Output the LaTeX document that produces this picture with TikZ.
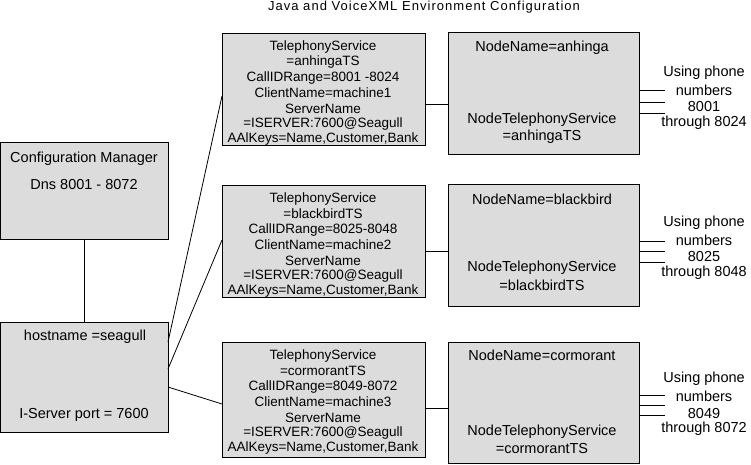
\documentclass[tikz,border=0pt]{standalone}
\usepackage{fontspec}
\setmainfont{Liberation Sans}
\newfontfamily\titlefont[LetterSpace=8]{Liberation Sans}
\definecolor{boxgray}{RGB}{220,220,220}
\tikzset{
  box/.style={draw=black, fill=boxgray, line width=1pt},
  lbl/.style={inner sep=0pt, anchor=center, font=\fontsize{14.5}{15}\selectfont},
  tslbl/.style={inner sep=0pt, anchor=center, font=\fontsize{13.5}{15}\selectfont},
  conn/.style={draw=black, line width=0.8pt}
}
\begin{document}
\begin{tikzpicture}[x=1pt,y=-1pt]
\useasboundingbox (0,0) rectangle (751,464);
% title
\node[inner sep=0pt, font=\titlefont\fontsize{13}{15}\selectfont] (title) at (424,7) {Java and VoiceXML Environment Configuration};
% left boxes
\path[box] (0.5,142) rectangle (168,239);
\path[box] (0.5,322) rectangle (168,432);
\node[lbl] (cm1) at (84,159) {Configuration Manager};
\node[lbl] (cm2) at (84,185) {Dns 8001 - 8072};
\node[lbl] (h1) at (85,337) {hostname =seagull};
\node[lbl] (h2) at (84,415) {I-Server port = 7600};
\coordinate (cmB) at (84,239);
\coordinate (hT) at (84,322);
\draw[conn] (cmB) -- (hT);
% telephony boxes
\path[box] (222,33) rectangle (425,145);
\path[box] (222,185) rectangle (425,297);
\path[box] (222,342) rectangle (425,457);
% node boxes
\path[box] (448,32) rectangle (639,154);
\path[box] (448,184) rectangle (639,306);
\path[box] (448,342) rectangle (639,463);
% telephony texts
\foreach \n/\y/\a/\b/\c in {a/47/anhinga/8001 -8024/1, b/199/blackbird/8025-8048/2, c/356/cormorant/8049-8072/3}{
  \node[tslbl] (\n t1) at (323,\y) {TelephonyService};
  \node[tslbl] (\n t2) at (323,\y+15) {=\a TS};
  \node[tslbl] (\n t3) at (323,\y+31) {CallIDRange=\b};
  \node[tslbl] (\n t4) at (323,\y+46) {ClientName=machine\c};
  \node[tslbl] (\n t5) at (323,\y+62) {ServerName};
  \node[tslbl] (\n t6) at (323,\y+77) {=ISERVER:7600@Seagull};
  \node[tslbl] (\n t7) at (323,\y+92) {AAlKeys=Name,Customer,Bank};
}
% node name texts
\node[lbl] (na1) at (542,48) {NodeName=anhinga};
\node[lbl] (na2) at (542,120) {NodeTelephonyService};
\node[lbl] (na3) at (542,137) {=anhingaTS};
\node[lbl] (nb1) at (542,199) {NodeName=blackbird};
\node[lbl] (nb2) at (542,268) {NodeTelephonyService};
\node[lbl] (nb3) at (542,285) {=blackbirdTS};
\node[lbl] (nc1) at (542,355) {NodeName=cormorant};
\node[lbl] (nc2) at (542,432) {NodeTelephonyService};
\node[lbl] (nc3) at (542,448) {=cormorantTS};
% phone texts
\foreach \n/\y/\p/\q in {a/73/8001/8024, b/223/8025/8048, c/379/8049/8072}{
  \node[lbl] (\n p1) at (704,\y) {Using phone};
  \node[lbl] (\n p2) at (704,\y+17) {numbers};
  \node[lbl] (\n p3) at (704,\y+34) {\p};
  \node[lbl] (\n p4) at (704,\y+50) {through \q};
}
% connectors host -> telephony
\coordinate (hA) at (168,342);
\coordinate (hB) at (168,369);
\coordinate (hC) at (168,387);
\coordinate (tA) at (222,96);
\coordinate (tB) at (222,240);
\coordinate (tC) at (222,404);
\draw[conn] (hA) -- (tA);
\draw[conn] (hB) -- (tB);
\draw[conn] (hC) -- (tC);
% telephony -> node
\coordinate (tsA) at (425,104);
\coordinate (nnA) at (448,104);
\coordinate (tsB) at (425,251);
\coordinate (nnB) at (448,251);
\coordinate (tsC) at (425,408);
\coordinate (nnC) at (448,408);
\draw[conn] (tsA) -- (nnA);
\draw[conn] (tsB) -- (nnB);
\draw[conn] (tsC) -- (nnC);
% phone lines
\foreach \n/\ya/\yb/\yc in {a/90/102/113, b/241/251/262, c/395/405/415}{
  \coordinate (\n s1) at (639,\ya); \coordinate (\n e1) at (665,\ya);
  \coordinate (\n s2) at (639,\yb); \coordinate (\n e2) at (665,\yb);
  \coordinate (\n s3) at (639,\yc); \coordinate (\n e3) at (665,\yc);
  \draw[conn] (\n s1) -- (\n e1);
  \draw[conn] (\n s2) -- (\n e2);
  \draw[conn] (\n s3) -- (\n e3);
}
\end{tikzpicture}
\end{document}
